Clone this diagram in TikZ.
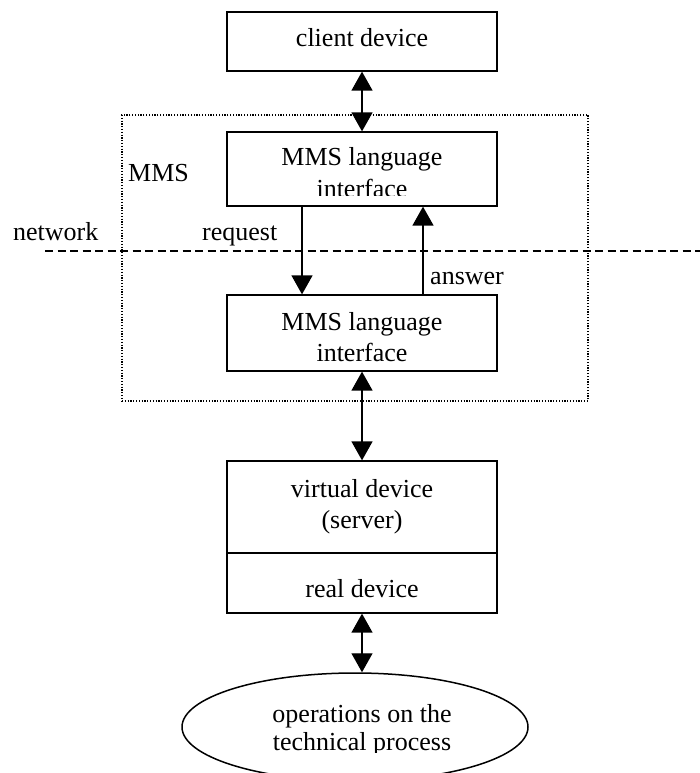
\documentclass[tikz,border=0pt]{standalone}
\usepackage{fontspec}
\setmainfont{Liberation Serif}
\usetikzlibrary{arrows.meta,shapes.geometric}
\begin{document}
\begin{tikzpicture}[x=1pt,y=-1pt,
  box/.style={draw,line width=1.3pt,inner sep=0pt,rectangle},
  lbl/.style={inner sep=0pt,anchor=base,font=\fontsize{26}{31}\selectfont},
  lblw/.style={inner sep=0pt,anchor=base west,font=\fontsize{26}{31}\selectfont},
  dbl/.style={line width=1.4pt,{Triangle[width=21pt,length=19pt]}-{Triangle[width=21pt,length=19pt]}},
  sgl/.style={line width=1.4pt,-{Triangle[width=21pt,length=19pt]}},
  dotbox/.style={draw,line width=1.2pt,dash pattern=on 1.2pt off 1.6pt,inner sep=0pt,rectangle},
  netline/.style={line width=1.3pt,dash pattern=on 8pt off 4.5pt}]
\useasboundingbox (0,0) rectangle (700,773);
\fill[white] (0,0) rectangle (700,773);
% boxes
\node[box,minimum width=270pt,minimum height=59pt] (client) at (362,41.5) {};
\node[dotbox,minimum width=466pt,minimum height=286pt] (mms) at (355,258) {};
\node[box,minimum width=270pt,minimum height=74pt] (lang1) at (362,169) {};
\node[box,minimum width=270pt,minimum height=76pt] (lang2) at (362,333) {};
\node[box,minimum width=270pt,minimum height=152pt] (virt) at (362,537) {};
\coordinate (divL) at (227,553);
\coordinate (divR) at (497,553);
\draw[line width=1.3pt] (divL) -- (divR);
\node[draw,line width=1.5pt,ellipse,inner sep=0pt,minimum width=346pt,minimum height=108pt] (ops) at (355,727) {};
% texts
\node[lbl] (tclient) at (362,47) {client device};
\node[lbl] (t1a) at (362,165) {MMS language};
\begin{scope}
\clip (227,132) rectangle (497,195);
\node[lbl] (t1b) at (362,197) {interface};
\end{scope}
\node[lbl] (t2a) at (362,330) {MMS language};
\node[lbl] (t2b) at (362,361) {interface};
\node[lbl] (tv1) at (362,497) {virtual device};
\node[lbl] (tv2) at (362,528) {(server)};
\node[lbl] (treal) at (362,597) {real device};
\node[lbl] (to1) at (362,722) {operations on the};
\begin{scope}
\clip (182,673) rectangle (528,752);
\node[lbl] (to2) at (362,750) {technical process};
\end{scope}
\node[lblw] (tmms) at (128,181) {MMS};
\node[lblw] (tnet) at (13,240) {network};
\node[lblw] (treq) at (202,240) {request};
\node[lblw] (tans) at (430,284) {answer};
% network line
\coordinate (netL) at (45,251);
\coordinate (netR) at (700,251);
\draw[netline] (netL) -- (netR);
% connectors
\coordinate (rq) at (302,250);
\coordinate (an) at (423,250);
\draw[dbl] (client.south) -- (lang1.north);
\draw[sgl] (lang1.south -| rq) -- (lang2.north -| rq);
\draw[sgl] (lang2.north -| an) -- (lang1.south -| an);
\draw[dbl] (lang2.south) -- (virt.north);
\draw[dbl] (virt.south) -- (virt.south |- ops.north);
\end{tikzpicture}
\end{document}
